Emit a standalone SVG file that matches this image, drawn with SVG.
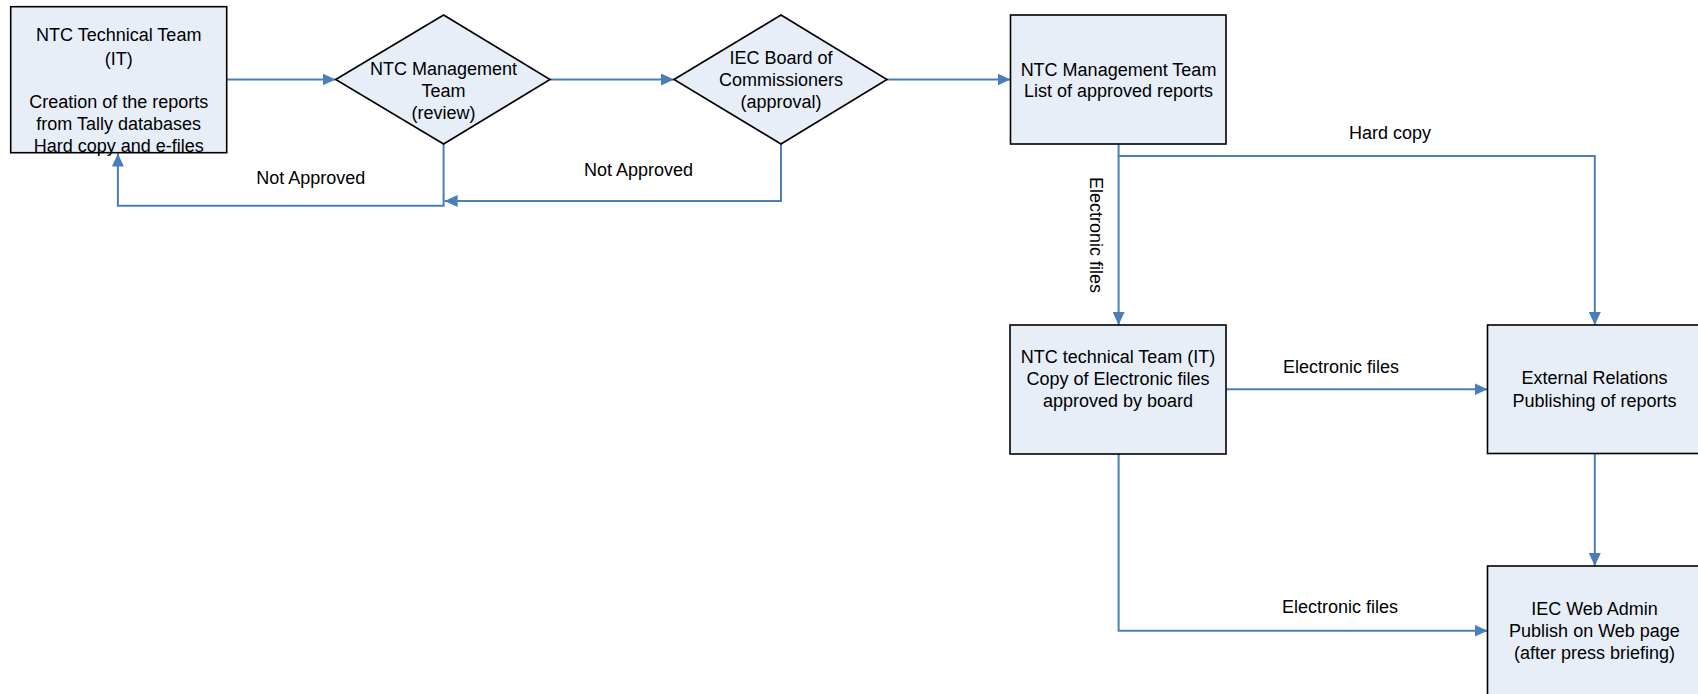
<svg xmlns="http://www.w3.org/2000/svg" width="1698" height="694" viewBox="0 0 1698 694">
<style>
.node{fill:#e8eef8;stroke:#000;stroke-width:1.6}
.t{font-family:"Liberation Sans",Arial,sans-serif;font-size:18px;fill:#000;text-anchor:middle}
.c{fill:none;stroke:#4a7ebb;stroke-width:2}
</style>
<defs>
<marker id="ah" markerUnits="userSpaceOnUse" markerWidth="14" markerHeight="12" refX="13" refY="6" orient="auto">
<path d="M0,0 L13,6 L0,12 z" fill="#4a7ebb"/>
</marker>
</defs>
<rect width="1698" height="694" fill="#fff"/>
<g id="connectors">
<path class="c" d="M226.8,79.5 H335.5" marker-end="url(#ah)"/>
<path class="c" d="M550,79.5 H674" marker-end="url(#ah)"/>
<path class="c" d="M887,79.5 H1010.5" marker-end="url(#ah)"/>
<path class="c" d="M443.6,144 V205.7 H117.9 V153.5" marker-end="url(#ah)"/>
<path class="c" d="M781,144 V201 H444.6" marker-end="url(#ah)"/>
<path class="c" d="M1118.6,144 V156 H1594.8 V325" marker-end="url(#ah)"/>
<path class="c" d="M1118.6,156 V325" marker-end="url(#ah)"/>
<path class="c" d="M1226,389.3 H1487.5" marker-end="url(#ah)"/>
<path class="c" d="M1118.6,454 V630.7 H1487.5" marker-end="url(#ah)"/>
<path class="c" d="M1594.8,453.3 V566" marker-end="url(#ah)"/>
<text class="t" x="310.7" y="184.3">Not Approved</text>
<text class="t" x="638.5" y="176">Not Approved</text>
<text class="t" x="1390" y="139">Hard copy</text>
<text class="t" transform="translate(1089.7,235) rotate(90)" x="0" y="0">Electronic files</text>
<text class="t" x="1341" y="373">Electronic files</text>
<text class="t" x="1340" y="613.3">Electronic files</text>
</g>
<g id="n1">
<rect class="node" x="10.7" y="6.7" width="216" height="146"/>
<text class="t" x="118.7" y="41">NTC Technical Team</text>
<text class="t" x="118.7" y="65.3">(IT)</text>
<text class="t" x="118.7" y="107.7">Creation of the reports</text>
<text class="t" x="118.7" y="130">from Tally databases</text>
<text class="t" x="118.7" y="152">Hard copy and e-files</text>
</g>
<g id="n2">
<polygon class="node" points="335.7,79.5 443.6,15 550,79.5 443.6,144"/>
<text class="t" x="443.6" y="75">NTC Management</text>
<text class="t" x="443.6" y="96.7">Team</text>
<text class="t" x="443.6" y="119.3">(review)</text>
</g>
<g id="n3">
<polygon class="node" points="674,79.5 781,15 887,79.5 781,144"/>
<text class="t" x="781" y="64.3">IEC Board of</text>
<text class="t" x="781" y="86">Commissioners</text>
<text class="t" x="781" y="107.7">(approval)</text>
</g>
<g id="n4">
<rect class="node" x="1010.5" y="15" width="215.5" height="129"/>
<text class="t" x="1118.5" y="76">NTC Management Team</text>
<text class="t" x="1118.5" y="96.7">List of approved reports</text>
</g>
<g id="n5">
<rect class="node" x="1010" y="325" width="216" height="129"/>
<text class="t" x="1118" y="362.7">NTC technical Team (IT)</text>
<text class="t" x="1118" y="385.3">Copy of Electronic files</text>
<text class="t" x="1118" y="406.7">approved by board</text>
</g>
<g id="n6">
<rect class="node" x="1487.5" y="325" width="216" height="128.5"/>
<text class="t" x="1594.5" y="384.3">External Relations</text>
<text class="t" x="1594.5" y="406.7">Publishing of reports</text>
</g>
<g id="n7">
<rect class="node" x="1487.5" y="566" width="216" height="140"/>
<text class="t" x="1594.5" y="615">IEC Web Admin</text>
<text class="t" x="1594.5" y="637">Publish on Web page</text>
<text class="t" x="1594.5" y="659.3">(after press briefing)</text>
</g>
</svg>
